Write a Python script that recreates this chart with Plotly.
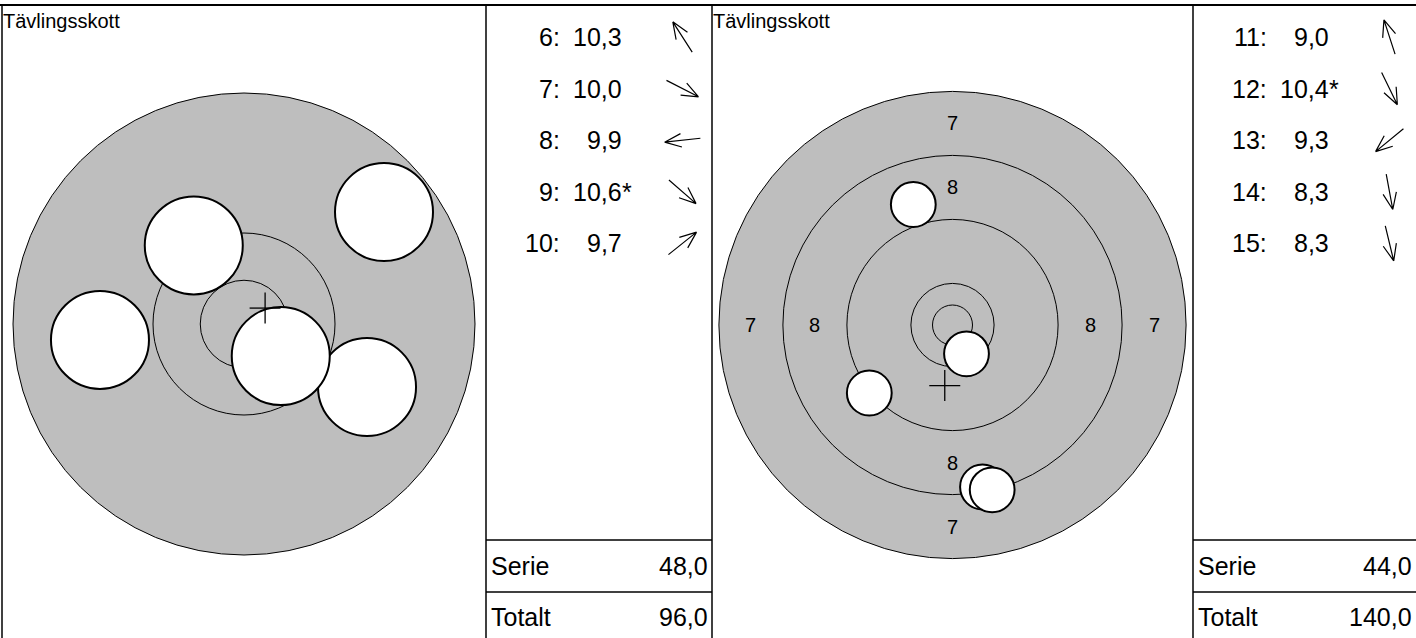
import math
import plotly.graph_objects as go

W, H = 1416, 638

title = "Tävlingsskott"

# shots: number, score, inner-ten flag, position in mm from target centre
left_nr = [6, 7, 8, 9, 10]
left_score = [10.3, 10.0, 9.9, 10.6, 9.7]
left_inner = [False, False, False, True, False]
left_x = [-2.87, 7.03, -8.23, 2.10, 8.00]
left_y = [4.49, -3.60, -0.91, -1.83, 6.40]

right_nr = [11, 12, 13, 14, 15]
right_score = [9.0, 10.4, 9.3, 8.3, 8.3]
right_inner = [False, True, False, False, False]
right_x = [-4.90, 1.75, -10.40, 3.75, 4.96]
right_y = [15.06, -3.60, -8.50, -20.25, -20.60]

serie = [48.0, 44.0]
totalt = [96.0, 140.0]

# target geometry (mm)
ring_r = [29.2, 21.2, 13.2, 5.2, 2.5]
ring_lbl = ["7", "8"]
ring_lbl_r = [25.2, 17.2]
shot_r = 2.8

FONT = "Liberation Sans, Arial, Helvetica, sans-serif"


def fmt(v):
    return f"{v:.1f}".replace(".", ",")


def px(x):
    return x / W


def py(y):
    return 1 - y / H


# panel layout in pixels: target box, centre, pixels per mm, outer ring
panels = [
    dict(x0=2, x1=486, t1=712, cx=244, cy=324, s=17.5, outer=13.2,
         nr=left_nr, score=left_score, inner=left_inner, xs=left_x, ys=left_y,
         labels=False, serie=serie[0], tot=totalt[0]),
    dict(x0=712, x1=1193, t1=1422, cx=952.5, cy=325, s=8.0, outer=29.2,
         nr=right_nr, score=right_score, inner=right_inner, xs=right_x, ys=right_y,
         labels=True, serie=serie[1], tot=totalt[1]),
]
top = 5

fig = go.Figure()
shapes = []
annotations = []

for k, p in enumerate(panels):
    ax = "" if k == 0 else str(k + 1)
    xr, yr = "x" + ax, "y" + ax
    s = p["s"]
    fig.add_trace(go.Scatter(x=[0], y=[0], mode="markers", marker=dict(opacity=0),
                             xaxis=xr, yaxis=yr, showlegend=False, hoverinfo="skip"))
    fig.update_layout(**{
        "xaxis" + ax: dict(domain=[px(p["x0"]), px(p["x1"])],
                           range=[(p["x0"] - p["cx"]) / s, (p["x1"] - p["cx"]) / s],
                           visible=False, fixedrange=True),
        "yaxis" + ax: dict(domain=[0, py(top)],
                           range=[-(H - p["cy"]) / s, (p["cy"] - top) / s],
                           visible=False, fixedrange=True),
    })

    # target: grey disc plus ring lines inside it
    rings = [r for r in ring_r if r <= p["outer"]]
    for i, r in enumerate(rings):
        shapes.append(dict(type="circle", xref=xr, yref=yr, x0=-r, x1=r, y0=-r, y1=r,
                           fillcolor="#bebebe" if i == 0 else "rgba(0,0,0,0)",
                           line=dict(color="black", width=1)))
    if p["labels"]:
        for lab, r in zip(ring_lbl, ring_lbl_r):
            if r < p["outer"]:
                for dx, dy in [(0, r), (0, -r), (r, 0), (-r, 0)]:
                    annotations.append(dict(x=dx, y=dy, xref=xr, yref=yr, text=lab,
                                            showarrow=False,
                                            font=dict(size=20, color="black", family=FONT)))

    # shots
    for x, y in zip(p["xs"], p["ys"]):
        shapes.append(dict(type="circle", xref=xr, yref=yr,
                           x0=x - shot_r, x1=x + shot_r, y0=y - shot_r, y1=y + shot_r,
                           fillcolor="white", line=dict(color="black", width=2)))

    # mean point of impact
    mx = sum(p["xs"]) / len(p["xs"])
    my = sum(p["ys"]) / len(p["ys"])
    c = 15.5 / s
    shapes.append(dict(type="line", xref=xr, yref=yr, x0=mx - c, x1=mx + c, y0=my, y1=my,
                       line=dict(color="black", width=1.3)))
    shapes.append(dict(type="line", xref=xr, yref=yr, x0=mx, x1=mx, y0=my - c, y1=my + c,
                       line=dict(color="black", width=1.3)))

    annotations.append(dict(x=px(p["x0"] - 1), y=py(21), xref="paper", yref="paper",
                            text=title, showarrow=False, xanchor="left", yanchor="middle",
                            font=dict(size=20, color="black", family=FONT)))

    # table column
    tx0, tx1 = p["x1"], p["t1"]
    for x in [p["x0"], tx0]:
        shapes.append(dict(type="line", xref="paper", yref="paper", x0=px(x), x1=px(x),
                           y0=0, y1=py(top), line=dict(color="black", width=1.5)))
    for y in [540, 592]:
        shapes.append(dict(type="line", xref="paper", yref="paper", x0=px(tx0), x1=px(tx1),
                           y0=py(y), y1=py(y), line=dict(color="black", width=1.5)))

    f = dict(size=25, color="black", family=FONT)
    for i, (n, sc, inn, x, y) in enumerate(zip(p["nr"], p["score"], p["inner"], p["xs"], p["ys"])):
        ry = 37 + 51.6 * i
        annotations.append(dict(x=px(tx0 + 76), y=py(ry), xref="paper", yref="paper",
                                text=f"{n}:", showarrow=False, xanchor="right",
                                yanchor="middle", font=f))
        annotations.append(dict(x=px(tx0 + 138), y=py(ry), xref="paper", yref="paper",
                                text=fmt(sc), showarrow=False, xanchor="right",
                                yanchor="middle", font=f))
        if inn:
            annotations.append(dict(x=px(tx0 + 134), y=py(ry), xref="paper", yref="paper",
                                    text="*", showarrow=False, xanchor="left",
                                    yanchor="middle", font=f))
        # direction arrow
        a = math.atan2(y, x)
        ux, uy = math.cos(a), -math.sin(a)
        acx = tx0 + 196.5
        L, hl, ha = 36, 18, math.radians(22)
        tipx, tipy = acx + ux * L / 2, ry + uy * L / 2
        tailx, taily = acx - ux * L / 2, ry - uy * L / 2
        path = f"M{px(tailx)},{py(taily)} L{px(tipx)},{py(tipy)}"
        for sgn in (1, -1):
            b = math.atan2(-uy, -ux) + sgn * ha
            hx, hy = tipx + hl * math.cos(b), tipy + hl * math.sin(b)
            path += f" M{px(tipx)},{py(tipy)} L{px(hx)},{py(hy)}"
        shapes.append(dict(type="path", xref="paper", yref="paper", path=path,
                           line=dict(color="black", width=1.2)))

    for lab, val, ry in [("Serie", p["serie"], 566), ("Totalt", p["tot"], 617)]:
        annotations.append(dict(x=px(tx0 + 3), y=py(ry), xref="paper", yref="paper",
                                text=lab, showarrow=False, xanchor="left",
                                yanchor="middle", font=f))
        annotations.append(dict(x=px(min(tx1, W) - 2), y=py(ry), xref="paper", yref="paper",
                                text=fmt(val), showarrow=False, xanchor="right",
                                yanchor="middle", font=f))

shapes.append(dict(type="line", xref="paper", yref="paper", x0=0, x1=1,
                   y0=py(top), y1=py(top), line=dict(color="black", width=2)))

fig.update_layout(width=W, height=H, margin=dict(l=0, r=0, t=0, b=0),
                  paper_bgcolor="white", plot_bgcolor="white",
                  shapes=shapes, annotations=annotations, showlegend=False)

fig.write_html("out.html", config={"displayModeBar": False},
               post_script="document.body.style.margin='0';")
